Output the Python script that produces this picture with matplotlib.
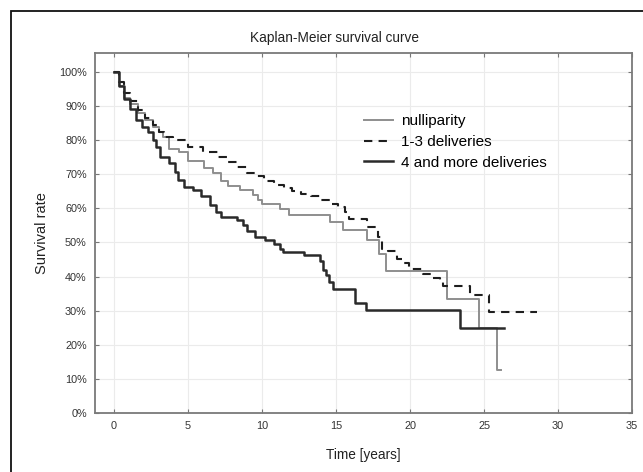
import matplotlib
matplotlib.use('Agg')
import matplotlib.pyplot as plt
from matplotlib.patches import Rectangle
from matplotlib.ticker import PercentFormatter

plt.rcParams['font.family'] = ['Liberation Sans', 'DejaVu Sans']

# step times (years) and survival (%)
null_t = [0, 0.3, 0.7, 1.1, 1.6, 2.1, 2.6, 3.0, 3.3, 3.7, 4.4, 5.0, 6.1, 6.7, 7.2, 7.7,
          8.5, 9.4, 9.7, 10.0, 11.2, 11.8, 14.6, 15.5, 17.1, 17.9, 18.4, 22.5, 24.65,
          25.9, 26.15]
null_s = [100, 96, 92.5, 90.5, 88, 86, 83.8, 82.5, 81, 77.5, 76.5, 74, 71.8, 70.3, 68, 66.5,
          65.3, 64, 62.6, 61.2, 59.7, 58.2, 56, 53.8, 50.6, 46.7, 41.5, 33.5, 25,
          12.5, 12.5]

mid_t = [0, 0.3, 0.7, 1.1, 1.6, 2.1, 2.6, 3.0, 3.4, 4.0, 5.0, 6.0, 7.0, 7.6, 8.3, 9.0,
         9.6, 10.1, 10.8, 11.5, 12.0, 12.6, 13.3, 14.0, 14.6, 15.1, 15.6, 15.9, 17.1,
         17.8, 18.1, 18.5, 19.1, 19.5, 19.9, 20.9, 21.4, 22.0, 22.2, 24.05, 25.3, 28.6]
mid_s = [100, 97, 93.8, 91.5, 88.8, 86.5, 84.4, 82.5, 81, 80, 78, 76.5, 75, 73.5, 72, 70.5,
         69.5, 68, 67, 66, 65.2, 64.2, 63.5, 62.4, 61.4, 60.3, 59, 57, 54.5,
         51.5, 48.2, 47.6, 45.3, 44, 42.2, 40.8, 39.5, 38.5, 37.3, 34.5, 29.7, 29.7]

many_t = [0, 0.3, 0.7, 1.1, 1.5, 1.9, 2.3, 2.6, 2.8, 3.1, 3.7, 4.1, 4.3, 4.7, 5.3, 5.9,
          6.5, 6.9, 7.2, 8.3, 8.7, 9.0, 9.5, 10.2, 10.8, 11.2, 11.4, 12.8, 13.9, 14.1,
          14.3, 14.5, 14.8, 16.3, 17.0, 23.4, 26.35]
many_s = [100, 96, 92, 89, 86, 84, 82.4, 80, 78, 75, 73.2, 70.6, 68.2, 66.2, 65.3, 63.5,
          61, 59, 57.4, 56.5, 55, 53.5, 51.5, 50.6, 49.6, 48.2, 47.2, 46.2, 44.5, 42,
          40.5, 38.5, 36.5, 32.4, 30.3, 25, 25]

labels = ['nulliparity', '1-3 deliveries', '4 and more deliveries']
x_ticks = [0, 5, 10, 15, 20, 25, 30, 35]
y_ticks = [0, 10, 20, 30, 40, 50, 60, 70, 80, 90, 100]

fig = plt.figure(figsize=(6.43, 4.72), dpi=100)
ax = fig.add_axes([0.148, 0.125, 0.835, 0.763])

ax.step(null_t, null_s, where='post', color='#8e8e8e', lw=1.4, label=labels[0])
ax.step(mid_t, mid_s, where='post', color='#1e1e1e', lw=1.5, ls=(0, (4, 3)), label=labels[1])
ax.step(many_t, many_s, where='post', color='#2a2a2a', lw=1.8, label=labels[2])

ax.set_xlim(-1.28, 35)
ax.set_ylim(0, 105.6)
ax.set_xticks(x_ticks)
ax.set_yticks(y_ticks)
ax.yaxis.set_major_formatter(PercentFormatter(decimals=0))
ax.grid(True, color='#ebebeb', lw=0.8)
ax.tick_params(direction='in', length=3, top=True, right=True, color='#777777',
               labelsize=7.8, labelcolor='#333333', pad=6)
for sp in ax.spines.values():
    sp.set_color('#7a7a7a')
    sp.set_linewidth(1.3)

fig.text(334 / 643, 1 - 38 / 472, 'Kaplan-Meier survival curve', fontsize=9.8,
         color='#222222', ha='center', va='center')
ax.set_xlabel('Time [years]', fontsize=9.8, color='#222222', labelpad=12)
ax.set_ylabel('Survival rate', fontsize=10.5, color='#222222', labelpad=7)

ax.legend(loc='upper left', bbox_to_anchor=(0.5, 0.83), frameon=False, fontsize=11,
          handlelength=1.9, handletextpad=0.52, labelspacing=0.45, borderpad=0,
          borderaxespad=0)

# outer frame around the whole picture
fig.patches.append(Rectangle((0.017, -0.01), 0.99, 0.987, transform=fig.transFigure,
                             fill=False, edgecolor='#111111', lw=1.3))

fig.savefig('out.png', dpi=100)
